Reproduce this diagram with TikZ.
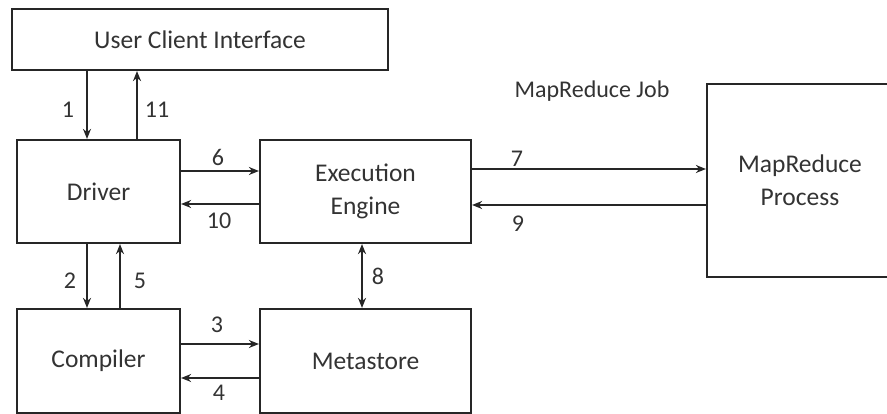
\documentclass[tikz,border=0pt]{standalone}
\usepackage{fontspec}
\setmainfont{Carlito}
\usetikzlibrary{arrows.meta}

\begin{document}
\begin{tikzpicture}[
  x=1pt, y=-1pt,
  >={Stealth[length=10pt,width=8pt]},
  blk/.style={draw=black!85,line width=2.2pt,align=center,inner sep=0pt,
              font=\fontsize{25.5}{33}\selectfont,text=black!80},
  num/.style={font=\fontsize{24}{28}\selectfont,text=black!80,inner sep=0pt},
  flow/.style={->,line width=2pt,black!85},
  both/.style={<->,line width=2pt,black!85}
]
\useasboundingbox (0,0) rectangle (887,414);

\node[blk,minimum width=376pt,minimum height=61pt]  (uci)  at (200,39.5)  {User Client Interface};
\node[blk,minimum width=163pt,minimum height=103pt] (drv)  at (98.5,191.5) {Driver};
\node[blk,minimum width=211pt,minimum height=103pt] (exe)  at (365.5,191.5) {Execution\\Engine};
\node[blk,minimum width=163pt,minimum height=104pt] (cmp)  at (98.5,361)  {Compiler};
\node[blk,minimum width=211pt,minimum height=104pt] (meta) at (365.5,361) {Metastore};
\node[blk,minimum width=186pt,minimum height=193pt] (mrp)  at (800,180.5) {MapReduce\\Process};

\node[num] (job) at (592,91) {MapReduce Job};

% driver <-> user interface
\draw[flow] ([xshift=-113pt]uci.south) -- ([xshift=-11.5pt]drv.north);
\draw[flow] ([xshift=38.5pt]drv.north) -- ([xshift=-63pt]uci.south);
% driver <-> compiler
\draw[flow] ([xshift=-11.5pt]drv.south) -- ([xshift=-11.5pt]cmp.north);
\draw[flow] ([xshift=21.5pt]cmp.north) -- ([xshift=21.5pt]drv.south);
% compiler <-> metastore
\draw[flow] ([yshift=17pt]cmp.east) -- ([yshift=17pt]meta.west);
\draw[flow] ([yshift=-17pt]meta.west) -- ([yshift=-17pt]cmp.east);
% driver <-> engine
\draw[flow] ([yshift=20.5pt]drv.east) -- ([yshift=20.5pt]exe.west);
\draw[flow] ([yshift=-12.5pt]exe.west) -- ([yshift=-12.5pt]drv.east);
% engine <-> metastore
\draw[both] ([xshift=-3.5pt]exe.south) -- ([xshift=-3.5pt]meta.north);
% engine <-> mapreduce
\draw[flow] ([yshift=22.5pt]exe.east) -- ([yshift=11.5pt]mrp.west);
\draw[flow] ([yshift=-24.5pt]mrp.west) -- ([yshift=-13.5pt]exe.east);

\node[num] (n1)  at (68,110)  {1};
\node[num] (n11) at (157,110) {11};
\node[num] (n2)  at (70,281)  {2};
\node[num] (n5)  at (140,281) {5};
\node[num] (n3)  at (217,325) {3};
\node[num] (n4)  at (219,393) {4};
\node[num] (n6)  at (218,157) {6};
\node[num] (n10) at (219,221) {10};
\node[num] (n8)  at (378,276) {8};
\node[num] (n7)  at (517,159) {7};
\node[num] (n9)  at (518,224) {9};
\end{tikzpicture}
\end{document}
